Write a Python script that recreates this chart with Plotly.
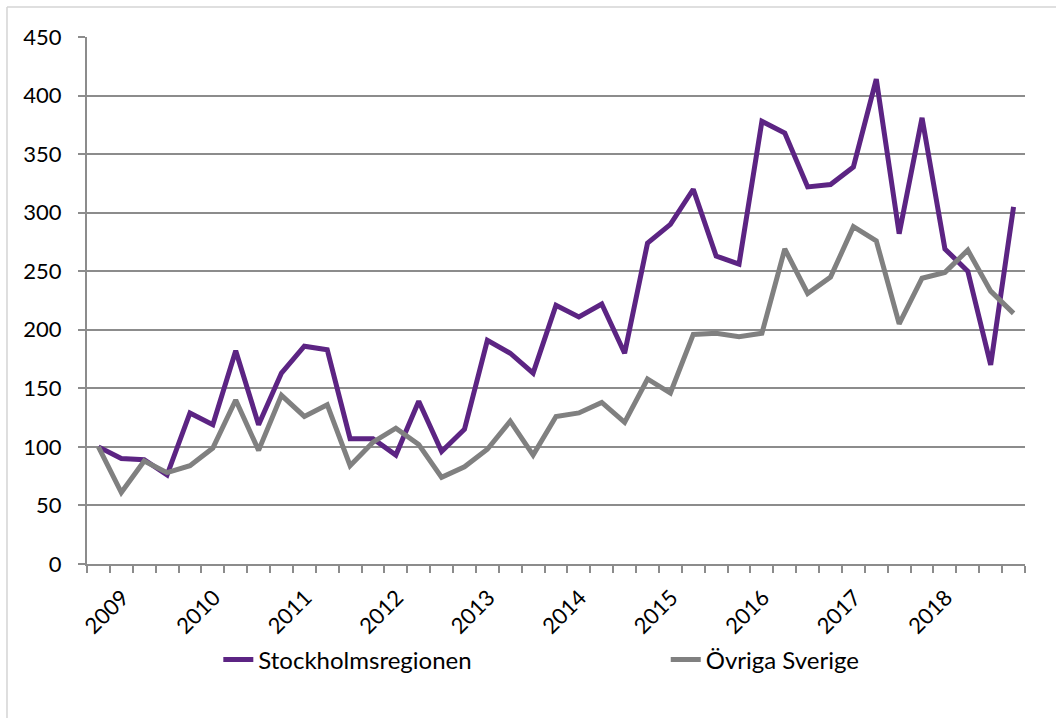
import plotly.graph_objects as go

# Index, kvartalsvis (41 kvartal), 2009 = 100
years = ["2009", "2010", "2011", "2012", "2013", "2014", "2015", "2016", "2017", "2018"]

stockholm = [100, 90, 89, 76, 129, 119, 182, 119, 163, 186, 183, 107, 107, 93, 139,
             96, 115, 191, 180, 163, 221, 211, 222, 180, 274, 290, 320, 263, 256,
             378, 368, 322, 324, 339, 414, 282, 381, 269, 250, 170, 305]

ovriga = [100, 61, 88, 78, 84, 99, 140, 97, 144, 126, 136, 84, 104, 116, 102,
          74, 83, 98, 122, 93, 126, 129, 138, 121, 158, 146, 196, 197, 194,
          197, 269, 231, 245, 288, 276, 205, 244, 249, 268, 233, 214]

x = list(range(len(stockholm)))
tick_pos = [4 * i for i in range(len(years))]

PURPLE = "#5c2483"
GREY = "#808080"
AXIS = "#8c8c8c"
FONT = "Lato"

fig = go.Figure()

fig.add_trace(go.Scatter(
    x=x, y=stockholm, mode="lines", name="Stockholmsregionen",
    line={"color": PURPLE, "width": 5}, legend="legend"
))
fig.add_trace(go.Scatter(
    x=x, y=ovriga, mode="lines", name="Övriga Sverige",
    line={"color": GREY, "width": 5}, legend="legend2"
))

fig.update_xaxes(
    range=[-0.5, len(x) - 0.5],
    tickmode="array", tickvals=tick_pos, ticktext=years,
    tickangle=-45, ticks="outside", ticklen=0,
    ticklabelshift=24, ticklabelstandoff=10,
    showgrid=False, zeroline=False,
    showline=True, linecolor=AXIS, linewidth=2,
    minor={"tickmode": "linear", "tick0": -0.5, "dtick": 1,
           "ticks": "outside", "ticklen": 7, "tickwidth": 2,
           "tickcolor": AXIS, "showgrid": False},
    tickfont={"family": FONT, "size": 22, "color": "#000000"},
)
fig.update_yaxes(
    range=[0, 450], dtick=50,
    ticks="outside", ticklen=7, tickwidth=2, tickcolor=AXIS,
    ticklabelstandoff=12,
    showgrid=True, gridcolor=AXIS, gridwidth=2,
    zeroline=False, showline=True, linecolor=AXIS, linewidth=2,
    tickfont={"family": FONT, "size": 22, "color": "#000000"},
)

# ram runt diagrammet (syns upptill och till vänster)
fig.add_shape(type="line", xref="paper", yref="paper",
              x0=-0.0853, x1=1.04, y0=1.0569, y1=1.0569,
              line={"color": "#d4d4d4", "width": 1.5})
fig.add_shape(type="line", xref="paper", yref="paper",
              x0=-0.0853, x1=-0.0853, y0=1.0569, y1=-0.3,
              line={"color": "#d4d4d4", "width": 1.5})

leg = {"orientation": "h", "xanchor": "left",
       "y": -0.182, "yanchor": "middle",
       "bgcolor": "rgba(0,0,0,0)",
       "font": {"family": FONT, "size": 24}}

fig.update_layout(
    width=1056, height=718,
    margin={"l": 87, "r": 31, "t": 37, "b": 154},
    paper_bgcolor="white", plot_bgcolor="white",
    font={"family": FONT, "size": 22, "color": "#000000"},
    showlegend=True,
    legend={**leg, "x": 0.14},
    legend2={**leg, "x": 0.617},
)

fig.write_html("out.html", config={"displayModeBar": False},
               post_script="document.body.style.margin='0px';")
